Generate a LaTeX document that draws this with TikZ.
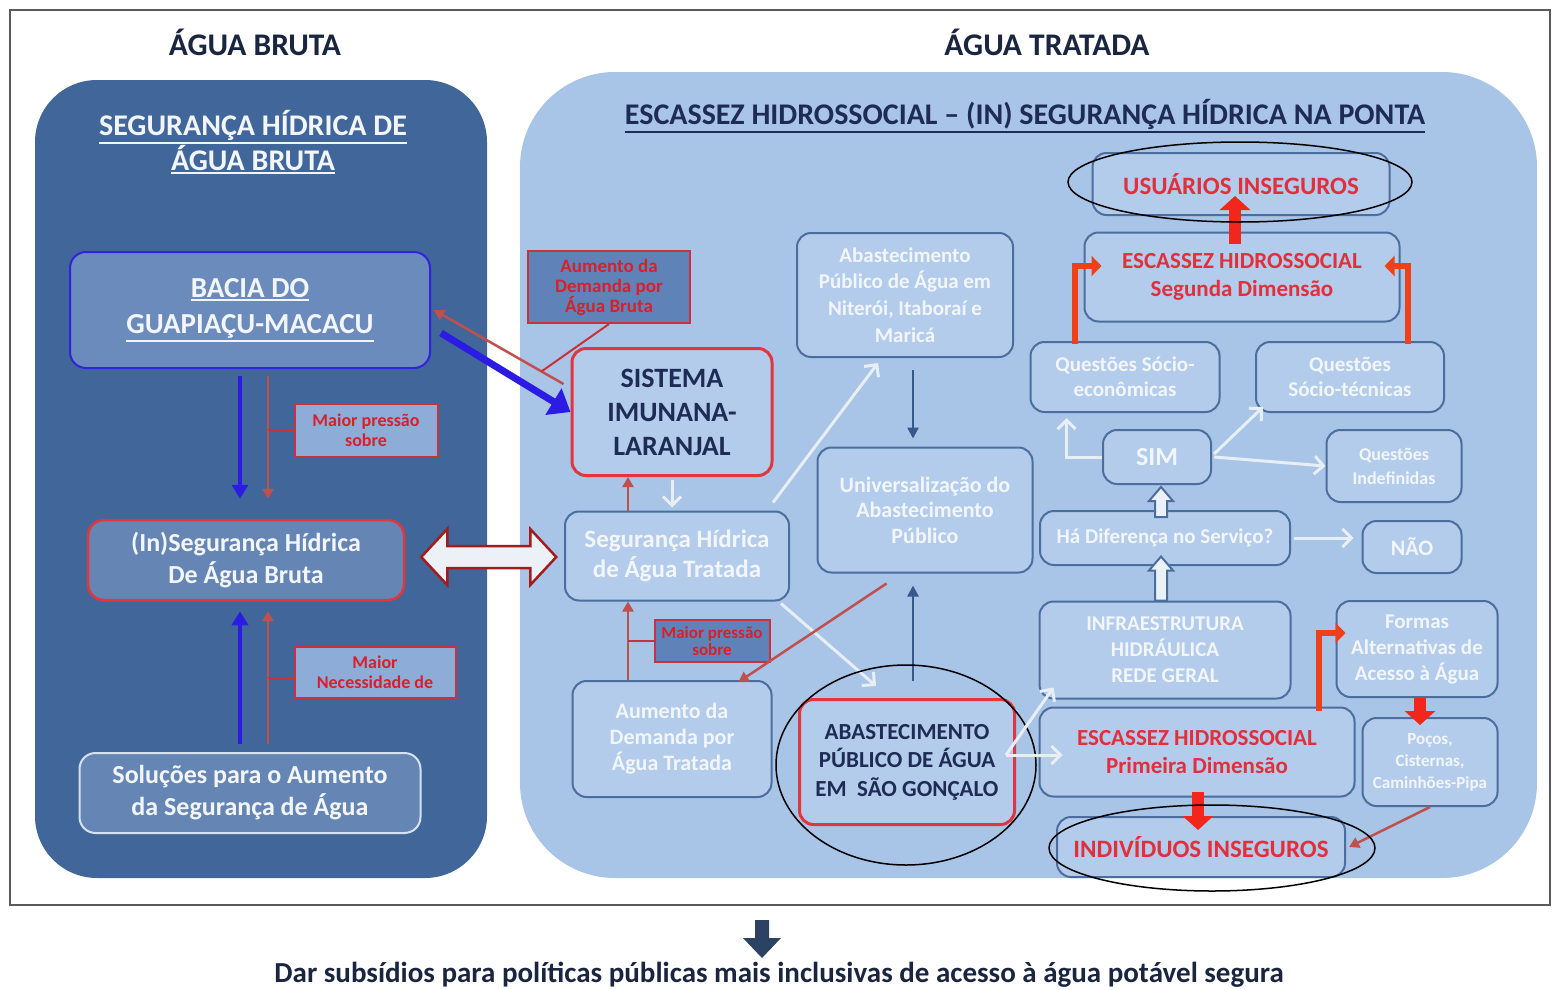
\documentclass[tikz,border=0pt]{standalone}
\usepackage{fontspec}
\setmainfont{Carlito}
\usetikzlibrary{arrows.meta,calc}

\definecolor{leftpanel}{HTML}{41679A}
\definecolor{rightpanel}{HTML}{A8C4E7}
\definecolor{darkfill}{HTML}{6586B5}
\definecolor{baciafill}{HTML}{6B8BBC}
\definecolor{baciablue}{HTML}{3322DD}
\definecolor{boxfill}{HTML}{B3CCEB}
\definecolor{boxline}{HTML}{4B6E9E}
\definecolor{boxtext}{HTML}{F2F6FB}
\definecolor{softline}{HTML}{D6E1EF}
\definecolor{navytext}{HTML}{1D2B55}
\definecolor{titlenavy}{HTML}{1A2540}
\definecolor{keyred}{HTML}{E2363F}
\definecolor{alertred}{HTML}{E12F3C}
\definecolor{tagred}{HTML}{C8323A}
\definecolor{tagtext}{HTML}{D8202B}
\definecolor{tagpale}{HTML}{8EACD8}
\definecolor{tagdeep}{HTML}{5F83B8}
\definecolor{thinred}{HTML}{C0504D}
\definecolor{vividblue}{HTML}{2B1BE3}
\definecolor{arrownavy}{HTML}{35598A}
\definecolor{arrowwhite}{HTML}{E8EEF6}
\definecolor{elbowred}{HTML}{F0401A}
\definecolor{blockred}{HTML}{F2261B}
\definecolor{darkred}{HTML}{A31C1C}
\definecolor{hollowfill}{HTML}{ECF1F8}
\definecolor{framegray}{HTML}{5A5A5A}
\definecolor{bottomnavy}{HTML}{2C4262}

\newcommand\fsz[2]{\fontsize{#1}{#2}\selectfont\bfseries}
\newcommand\ulin[1]{\leavevmode\vtop{\hbox{#1}\kern2pt\hrule height 1.8pt}}

\tikzset{
  panelbox/.style={rectangle, rounded corners=14pt, line width=2pt, align=center, inner sep=0pt},
  lightbox/.style={panelbox, draw=boxline, fill=boxfill, text=boxtext},
  darkbox/.style={panelbox, rounded corners=16pt, fill=darkfill, text=boxtext},
  keybox/.style={lightbox, draw=keyred, line width=3pt, text=navytext},
  tagbox/.style={rectangle, draw=tagred, line width=2pt, align=center, inner sep=0pt, text=tagtext},
  heading/.style={align=center, inner sep=0pt},
  redthin/.style={draw=thinred, line width=2.5pt, -{Triangle[length=10pt,width=11pt]}},
  bluearrow/.style={draw=vividblue, line width=4.5pt, -{Triangle[length=14pt,width=16pt]}},
  bluebig/.style={draw=vividblue, line width=7pt, -{Triangle[length=20pt,width=30pt]}},
  navyarrow/.style={draw=arrownavy, line width=2.5pt, -{Triangle[length=11pt,width=11pt]}},
  whitearrow/.style={draw=arrowwhite, line width=3pt, -{Straight Barb[length=9pt,width=18pt]}},
  redelbow/.style={draw=elbowred, line width=6pt, -{Triangle[length=10pt,width=20pt]}},
  redblock/.style={draw=blockred, line width=12pt, -{Triangle[length=14pt,width=30pt]}},
  hollowblue/.style={draw=boxline, line width=2pt, fill=hollowfill},
  hollowred/.style={draw=darkred, line width=2.5pt, fill=hollowfill},
  tagline/.style={draw=tagred, line width=2pt},
  ring/.style={draw=black, line width=1.5pt}
}

\begin{document}
\begin{tikzpicture}[x=1pt, y=-1pt]
  \useasboundingbox[fill=white] (0,0) rectangle (1560,990);
  \fill[leftpanel, rounded corners=62pt] (35,80) rectangle (487,878);
  \fill[rightpanel, rounded corners=95pt] (520,72) rectangle (1537,878);
  \draw[framegray, line width=1.6pt] (10,10) rectangle (1550,905);

  % titles
  \node[heading, text=titlenavy, font=\fsz{31.5}{36}] (tBruta) at (255,42) {ÁGUA BRUTA};
  \node[heading, text=titlenavy, font=\fsz{31.5}{36}] (tTratada) at (1047,42) {ÁGUA TRATADA};
  \node[heading, text=boxtext, font=\fsz{30}{35}] (hBruta) at (253,142) {\ulin{SEGURANÇA HÍDRICA DE}\\\ulin{ÁGUA BRUTA}};
  \node[heading, text=navytext, font=\fsz{30}{35}] (hTratada) at (1025,116) {\ulin{ESCASSEZ HIDROSSOCIAL – (IN) SEGURANÇA HÍDRICA NA PONTA}};

  % agua bruta
  \node[darkbox, fill=baciafill, draw=baciablue, minimum width=360, minimum height=116, font=\fsz{29}{36}] (bacia) at (250,310) {\ulin{BACIA DO}\\\ulin{GUAPIAÇU-MACACU}};
  \node[darkbox, draw=keyred, line width=2.5pt, minimum width=316, minimum height=80, font=\fsz{26}{32}] (insegB) at (246,560) {(In)Segurança Hídrica\\De Água Bruta};
  \node[darkbox, draw=softline, minimum width=341, minimum height=80, font=\fsz{26}{32}] (solucoes) at (250,793) {Soluções para o Aumento\\da Segurança de Água};
  \node[tagbox, fill=tagpale, minimum width=143, minimum height=53, font=\fsz{18}{20}] (tagP) at (366,430) {Maior pressão\\sobre};
  \node[tagbox, fill=tagpale, minimum width=161, minimum height=51, font=\fsz{18}{20}] (tagN) at (375,672) {Maior\\Necessidade de};

  \coordinate (lanB) at (240,0);
  \coordinate (lanR) at (268,0);
  \draw[bluearrow, shorten <=7pt, shorten >=20pt] (bacia.south -| lanB) -- (insegB.north -| lanB);
  \draw[redthin, shorten <=7pt, shorten >=20pt] (bacia.south -| lanR) -- (insegB.north -| lanR);
  \draw[tagline] (tagP.west) -- (tagP.west -| lanR);
  \draw[bluearrow, shorten <=8pt, shorten >=10pt] (solucoes.north -| lanB) -- (insegB.south -| lanB);
  \draw[redthin, shorten <=8pt, shorten >=10pt] (solucoes.north -| lanR) -- (insegB.south -| lanR);
  \draw[tagline] ($(tagN.west)+(0,6)$) -- ($(tagN.west -| lanR)+(0,6)$);

  \draw[hollowred] ($(insegB.east)+(16,-3)$) -- ++(26,-28) -- ++(0,17) -- ++(83,0) -- ++(0,-17) -- ++(26,28)
    -- ++(-26,28) -- ++(0,-17) -- ++(-83,0) -- ++(0,17) -- cycle;

  % agua tratada, centre
  \node[tagbox, fill=tagdeep, minimum width=162, minimum height=72, font=\fsz{19}{20}] (aumB) at (609,287) {Aumento da\\Demanda por\\Água Bruta};
  \node[keybox, minimum width=200, minimum height=127, font=\fsz{28}{34}] (sistema) at (672,412) {SISTEMA\\IMUNANA-\\LARANJAL};
  \node[lightbox, minimum width=224, minimum height=89, font=\fsz{25}{30}] (seg) at (677,556) {Segurança Hídrica\\de Água Tratada};
  \node[tagbox, fill=tagdeep, minimum width=115, minimum height=42, font=\fsz{17}{17}] (tagM) at (712,641) {Maior pressão\\sobre};
  \node[lightbox, minimum width=199, minimum height=116, font=\fsz{22}{26}] (aumT) at (672,739) {Aumento da\\Demanda por\\Água Tratada};
  \node[lightbox, minimum width=216, minimum height=124, font=\fsz{21}{26.7}] (niteroi) at (905,295) {Abastecimento\\Público de Água em\\Niterói, Itaboraí e\\Maricá};
  \node[lightbox, minimum width=215, minimum height=125, font=\fsz{22}{25.5}] (univ) at (925,510) {Universalização do\\Abastecimento\\Público};
  \node[keybox, minimum width=215, minimum height=125, font=\fsz{23}{28.5}] (sg) at (907,762) {ABASTECIMENTO\\PÚBLICO DE ÁGUA\\EM\ \ SÃO GONÇALO};

  \draw[redthin] ($(sistema.north west)+(-7,37)$) -- coordinate[pos=0.17] (hook) ($(bacia.east)+(3,0)$);
  \draw[tagline] (aumB.south) -- (hook);
  \draw[bluebig] ($(bacia.east)+(10,23)$) -- (sistema.west);

  \coordinate (lanT) at (628,0);
  \draw[whitearrow, shorten <=3pt, shorten >=3pt] (sistema.south) -- (sistema.south |- seg.north);
  \draw[redthin] (seg.north -| lanT) -- (sistema.south -| lanT);
  \draw[redthin] (aumT.north -| lanT) -- (seg.south -| lanT);
  \draw[tagline] (tagM.west) -- (tagM.west -| lanT);
  \draw[whitearrow] ($(seg.north east)+(-17,-8)$) -- ($(niteroi.south)+(-27,5)$);
  \draw[whitearrow] ($(seg.south east)+(-9,2)$) -- ($(sg.north west)+(78,-12)$);
  \draw[redthin] ($(univ.south west)+(70,10)$) -- ($(aumT.north east)+(-34,2)$);

  \coordinate (lanN) at (913,0);
  \draw[navyarrow, shorten <=12pt, shorten >=8pt] (niteroi.south -| lanN) -- (univ.north -| lanN);
  \draw[navyarrow, shorten <=17pt, shorten >=12pt] (sg.north -| lanN) -- (univ.south -| lanN);
  \draw[ring] ($(sg.center)+(-1,3)$) ellipse [x radius=130pt, y radius=100pt];

  % agua tratada, right
  \node[lightbox, minimum width=297, minimum height=62, text=alertred, font=\fsz{25}{30}] (usu) at (1241,184) {USUÁRIOS INSEGUROS};
  \node[lightbox, minimum width=315, minimum height=89, text=alertred, font=\fsz{23}{28}] (esc2) at (1242,277) {ESCASSEZ HIDROSSOCIAL\\Segunda Dimensão};
  \node[lightbox, minimum width=189, minimum height=70, font=\fsz{21}{25}] (socioE) at (1125,377) {Questões Sócio-\\econômicas};
  \node[lightbox, minimum width=188, minimum height=70, font=\fsz{21}{25}] (socioT) at (1350,377) {Questões\\Sócio-técnicas};
  \node[lightbox, minimum width=108, minimum height=54, font=\fsz{26}{30}] (sim) at (1157,457) {SIM};
  \node[lightbox, minimum width=135, minimum height=72, font=\fsz{18}{24}] (indef) at (1394,466) {Questões\\Indefinidas};
  \node[lightbox, minimum width=250, minimum height=54, font=\fsz{21}{25}] (ha) at (1165,538) {Há Diferença no Serviço?};
  \node[lightbox, minimum width=99, minimum height=52, font=\fsz{22}{26}] (nao) at (1412,547) {NÃO};
  \node[lightbox, minimum width=251, minimum height=97, font=\fsz{21}{26}] (infra) at (1165,650) {INFRAESTRUTURA\\HIDRÁULICA\\REDE GERAL};
  \node[lightbox, minimum width=161, minimum height=96, font=\fsz{21}{26}] (formas) at (1417,649) {Formas\\Alternativas de\\Acesso à Água};
  \node[lightbox, minimum width=315, minimum height=89, text=alertred, font=\fsz{23}{28}] (esc1) at (1197,752) {ESCASSEZ HIDROSSOCIAL\\Primeira Dimensão};
  \node[lightbox, minimum width=135, minimum height=88, font=\fsz{17}{22}] (pocos) at (1430,762) {Poços,\\Cisternas,\\Caminhões-Pipa};
  \node[lightbox, minimum width=288, minimum height=60, text=alertred, font=\fsz{25}{30}] (indiv) at (1201,847) {INDIVÍDUOS INSEGUROS};

  \draw[whitearrow] ($(sg.east)+(-10,-7)$) -- ($(infra.south west)+(15,-12)$);
  \draw[whitearrow] ($(sg.east)+(-10,-7)$) -- ($(esc1.west)+(24,3)$);
  \draw[hollowblue] ($(infra.north)+(-4,0)$) ++(-6,0) -- ++(0,-30) -- ++(-6,0) -- ++(12,-14) -- ++(12,14) -- ++(-6,0) -- ++(0,30) -- cycle;
  \draw[hollowblue] ($(ha.north)+(-4,7)$) ++(-6,0) -- ++(0,-16) -- ++(-6,0) -- ++(12,-14) -- ++(12,14) -- ++(-6,0) -- ++(0,16) -- cycle;
  \draw[whitearrow, shorten <=3pt, shorten >=8pt] (ha.east) -- (ha.east -| nao.west);
  \draw[whitearrow] (sim.west) -| ($(socioE.south west)+(37,5)$);
  \draw[whitearrow] ($(sim.east)+(2,-3)$) -- ($(socioT.south west)+(8,-6)$);
  \draw[whitearrow] ($(sim.east)+(2,0)$) -- (indef.west);

  \draw[redelbow] ($(socioE.north west)+(45,3)$) |- ($(esc2.west)+(18,-11)$);
  \draw[redelbow] ($(socioT.north east)+(-37,3)$) |- ($(esc2.east)+(-16,-11)$);
  \draw[redblock] ($(esc2.north)+(-7,12)$) -- ($(usu.south)+(-6,-20)$);
  \draw[ring] ($(usu.center)+(-1,-2)$) ellipse [x radius=172pt, y radius=40pt];

  \draw[redelbow] ($(esc1.north east)+(-37,4)$) |- ($(formas.west)+(10,-16)$);
  \draw[redblock] ($(formas.south)+(3,0)$) -- ($(pocos.north)+(-10,8)$);
  \draw[redblock] ($(esc1.south)+(1,-6)$) -- ($(indiv.north)+(-3,14)$);
  \draw[redthin] (pocos.south) -- ($(indiv.east)+(3,0)$);
  \draw[ring] ($(indiv.center)+(11,1)$) ellipse [x radius=163pt, y radius=43pt];

  % conclusion
  \fill[bottomnavy] (755,920) -- ++(14,0) -- ++(0,18) -- ++(12,0) -- ++(-19,20) -- ++(-19,-20) -- ++(12,0) -- cycle;
  \node[heading, text=titlenavy, font=\fsz{29}{32}] (concl) at (779,975) {Dar subsídios para políticas públicas mais inclusivas de acesso à água potável segura};
\end{tikzpicture}
\end{document}
